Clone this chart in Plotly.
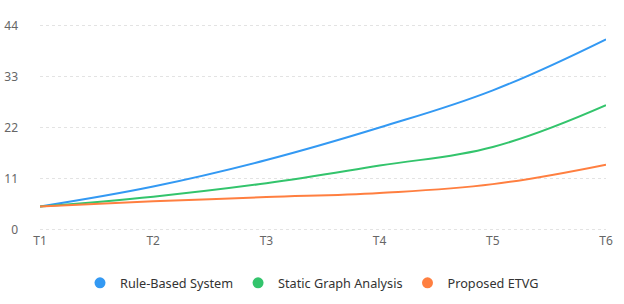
import plotly.graph_objects as go

categories = ["T1", "T2", "T3", "T4", "T5", "T6"]
rule_based = [5.0, 9.3, 15.0, 22.0, 30.0, 41.0]
static_graph = [5.0, 7.1, 10.0, 13.8, 17.8, 26.8]
proposed_etvg = [5.0, 6.1, 7.0, 7.9, 9.8, 14.0]
y_ticks = [0, 11, 22, 33, 44]

series = [
    ("Rule-Based System", rule_based, "#3399f3"),
    ("Static Graph Analysis", static_graph, "#33c46c"),
    ("Proposed ETVG", proposed_etvg, "#ff7f40"),
]

fig = go.Figure()
for name, vals, color in series:
    fig.add_trace(go.Scatter(
        x=categories, y=vals, mode="lines", name=name,
        line=dict(color=color, width=2, shape="spline", smoothing=1.15),
        showlegend=False, hoverinfo="x+y",
    ))
for name, vals, color in series:
    fig.add_trace(go.Scatter(
        x=[None], y=[None], mode="markers", name=name,
        marker=dict(color=color, size=11, symbol="circle"),
        showlegend=True,
    ))

fig.update_layout(
    width=624, height=304,
    margin=dict(l=40, r=18, t=24, b=73),
    paper_bgcolor="white", plot_bgcolor="white",
    font=dict(family="Noto Sans, Open Sans, sans-serif", size=12, color="#666"),
    xaxis=dict(
        type="category", range=[0, 5], showgrid=False, zeroline=False,
        showline=False, ticks="", ticklabelstandoff=1, automargin=False,
        tickfont=dict(size=12, color="#666"),
    ),
    yaxis=dict(
        range=[-0.3, 44.3], tickvals=y_ticks, showgrid=True, gridcolor="#e3e3e3",
        griddash="3px,3px", gridwidth=1, zeroline=False, showline=False,
        ticks="", ticklabelstandoff=21, automargin=False,
        tickfont=dict(size=12, color="#666"),
    ),
    legend=dict(
        orientation="h", xref="container", x=0.5, xanchor="center",
        yref="container", y=0.069, yanchor="middle",
        font=dict(size=12.7, color="#333"), itemwidth=30,
    ),
)

fig.write_html("out.html")
